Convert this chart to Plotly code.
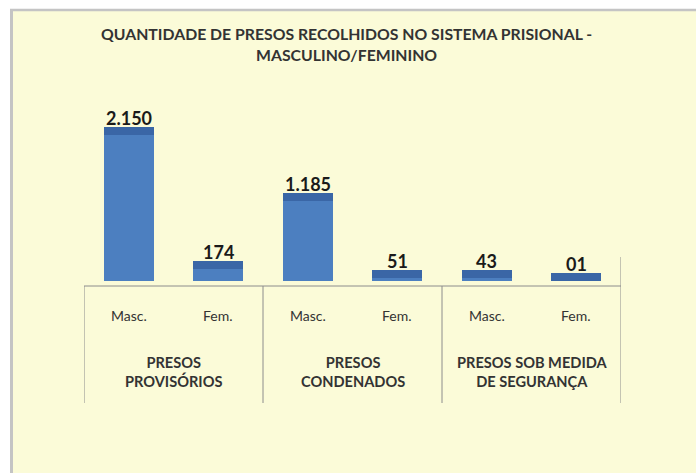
import plotly.graph_objects as go

# ---- data ----
groups = ["PRESOS<br>PROVISÓRIOS", "PRESOS<br>CONDENADOS", "PRESOS SOB MEDIDA<br>DE SEGURANÇA"]
sexes = ["Masc.", "Fem."]
values = [2150, 174, 1185, 51, 43, 1]
value_labels = ["2.150", "174", "1.185", "51", "43", "01"]
title_text = "QUANTIDADE DE PRESOS RECOLHIDOS NO SISTEMA PRISIONAL -<br>MASCULINO/FEMININO"

# ---- layout geometry (pixels) ----
W, H = 696, 473
L, R, T, B = 84, 621, 100, 281   # plot area edges in pixels
pw, ph = R - L, B - T

def px(x):
    return (x - L) / pw

def py(y):
    return (B - y) / ph

cats = list(range(len(values)))
band = 118  # depth band of the pseudo-3D top face (data units)
bands = [band] * len(values)

PANEL = "#FBFBD8"
MAIN = "#4C7FC0"
DARK = "#3A66A6"
TXT = "#333333"
FONT = "Lato"

fig = go.Figure()
fig.add_trace(go.Bar(x=cats, y=values, width=0.56, marker=dict(color=MAIN, line=dict(width=0)),
                     hoverinfo="skip"))
fig.add_trace(go.Bar(x=cats, y=bands, width=0.56, marker=dict(color=DARK, line=dict(width=0)),
                     hoverinfo="skip"))

annotations = []
# value labels
for c, v, lab in zip(cats, values, value_labels):
    annotations.append(dict(x=c, y=v + band, xref="x", yref="y", text=f"<b>{lab}</b>",
                            showarrow=False, yanchor="bottom", yshift=-4,
                            font=dict(family=FONT, size=18, color="#1a1a1a")))
# sub labels
for i, c in enumerate(cats):
    annotations.append(dict(x=c, y=py(315), xref="x", yref="paper", text=sexes[i % 2],
                            showarrow=False, yanchor="middle",
                            font=dict(family=FONT, size=14, color=TXT)))
# group labels
for g, name in enumerate(groups):
    annotations.append(dict(x=2 * g + 0.5, y=py(372), xref="x", yref="paper", text=f"<b>{name}</b>",
                            showarrow=False, yanchor="middle",
                            font=dict(family=FONT, size=14.6, color=TXT)))
# title
annotations.append(dict(x=px(346), y=py(44), xref="paper", yref="paper", text=f"<b>{title_text}</b>",
                        showarrow=False, yanchor="middle",
                        font=dict(family=FONT, size=15.8, color="#333333")))

shapes = []
# white outer strips and gray panel border
shapes.append(dict(type="rect", xref="paper", yref="paper", x0=px(0), x1=px(W), y0=py(0), y1=py(9),
                   fillcolor="white", line=dict(width=0), layer="below"))
shapes.append(dict(type="rect", xref="paper", yref="paper", x0=px(0), x1=px(10), y0=py(0), y1=py(H),
                   fillcolor="white", line=dict(width=0), layer="below"))
shapes.append(dict(type="line", xref="paper", yref="paper", x0=px(10), x1=px(W), y0=py(10), y1=py(10),
                   line=dict(color="#C4C4C4", width=2.5)))
shapes.append(dict(type="line", xref="paper", yref="paper", x0=px(11.5), x1=px(11.5), y0=py(9), y1=py(H),
                   line=dict(color="#C4C4C4", width=3)))
# axis line
shapes.append(dict(type="line", xref="x", yref="paper", x0=-0.5, x1=5.5, y0=py(286), y1=py(286),
                   line=dict(color="#8c8c8c", width=1)))
# group dividers
for xd in [-0.5, 1.5, 3.5, 5.5]:
    shapes.append(dict(type="line", xref="x", yref="paper", x0=xd, x1=xd, y0=py(286), y1=py(403),
                       line=dict(color="#8c8c8c", width=1)))
# right wall edge
shapes.append(dict(type="line", xref="x", yref="paper", x0=5.5, x1=5.5, y0=py(257), y1=py(286),
                   line=dict(color="#8c8c8c", width=1)))

fig.update_layout(
    width=W, height=H,
    margin=dict(l=L, r=W - R, t=T, b=H - B, pad=0),
    paper_bgcolor=PANEL, plot_bgcolor="rgba(0,0,0,0)",
    barmode="stack", showlegend=False,
    xaxis=dict(range=[-0.5, 5.5], visible=False, fixedrange=True),
    yaxis=dict(range=[0, ph / 0.0679], visible=False, fixedrange=True),
    annotations=annotations, shapes=shapes,
    font=dict(family=FONT),
)

fig.write_html("out.html")
